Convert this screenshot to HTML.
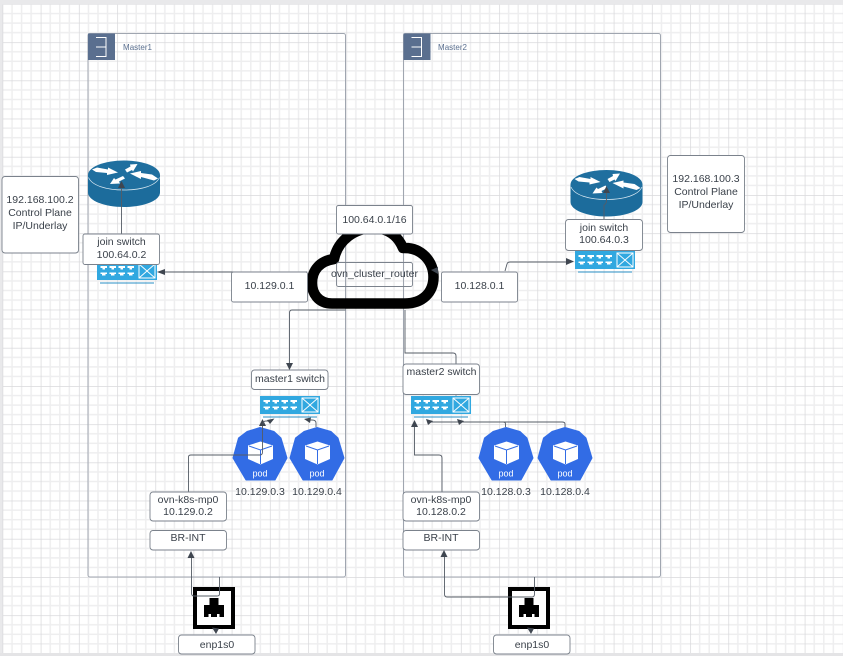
<!DOCTYPE html>
<html><head><meta charset="utf-8"><style>
html,body{margin:0;padding:0;background:#fff;overflow:hidden}
svg{display:block;filter:blur(.3px)}
text{font-family:"Liberation Sans",sans-serif;font-size:10.5px;fill:#3a414a;text-anchor:middle}
.b{fill:#fff;stroke:#7b828c;stroke-width:.9}
.c{fill:none;stroke:#555c66;stroke-width:.9}
.a{fill:#3f4650}
.m{fill:none;stroke:#a0a6b0;stroke-width:1}
</style></head><body>
<svg width="843" height="656" viewBox="0 0 843 656" xmlns="http://www.w3.org/2000/svg">
<defs>
<pattern id="g" x="2.5" y="4" width="38.2" height="38.2" patternUnits="userSpaceOnUse">
<path d="M9.55 0V38.2M19.1 0V38.2M28.65 0V38.2M0 9.55H38.2M0 19.1H38.2M0 28.65H38.2" stroke="#eeeeef" stroke-width="1.5" fill="none"/>
<path d="M0 0V38.2M0 0H38.2" stroke="#d9d9dc" stroke-width="1.5" fill="none"/>
</pattern>
<g id="sw">
<rect x="0" y="0" width="60" height="18" fill="#31a8e0"/>
<g fill="#fff">
<path id="p" d="M3.500 4H10V6H8V7.500H5.500V6H3.500ZM3.500 10.500H10V12H8.500V13.500H5V12H3.500Z"/>
<use href="#p" x="9"/><use href="#p" x="18"/><use href="#p" x="27"/>
</g>
<rect x="42" y="2" width="16" height="14" fill="none" stroke="#fff" stroke-width="1"/>
<path d="M42 2L58 16M58 2L42 16" stroke="#fff" stroke-width=".9"/>
<path d="M3 21H57" stroke="#2a8fc4" stroke-width="1.1"/>
</g>
<g id="router">
<path d="M0 14.500V32C0 40 16 46.500 36 46.500S72 40 72 32V14.500Z" fill="#1c6c9c"/>
<ellipse cx="36" cy="14.500" rx="36" ry="14.500" fill="#1f6f9f"/>
<path d="M0.500 17C4 25 18 29.500 36 29.500S68 25 71.500 17" fill="none" stroke="#d8e8f2" stroke-width=".7"/>
<g fill="#fff">
<path d="M4 9L9 7L20 9L20 7L30 12L19 14.500L19 12.500L8 11.500Z"/>
<path d="M37 9L39 12L44 9.500L45 11L49.500 3.500L42 4L42.500 6Z"/>
<path d="M42 13L53 10.500L53 12.500L64 14L70 18L66 20L53 16.500L53 18.500Z"/>
<path d="M35 15.500L37 18L31 21L32 23L22 23.500L26 17.500L27.500 19Z"/>
</g>
</g>
<g id="pod">
<path d="M27 0.500L41 4.500L48 11L54 31L42 53H13L0 31L5.500 11L14 4.500Z" fill="#326ce5" stroke="#326ce5" stroke-width="1" stroke-linejoin="round"/>
<path d="M27.500 14.500L15 18.500V32L27.500 37.500L40 32V18.500Z" fill="#fff"/>
<path d="M16 19L27.500 23L39 19M27.500 23V37" fill="none" stroke="#326ce5" stroke-width="1"/>
<text x="27" y="49.500" style="fill:#fff;font-size:9px">pod</text>
</g>
<g id="eth">
<rect x="2" y="2" width="38" height="38" fill="#fff" stroke="#000" stroke-width="4"/>
<path d="M16.500 11H25.500V18H31V30H26.500V27H24V30H18V27H15.500V30H11V18H16.500Z" fill="#000"/>
</g>
</defs>
<rect width="843" height="656" fill="#fff"/>
<rect width="843" height="656" fill="url(#g)"/>
<rect x="0" y="0" width="843" height="4.500" fill="#e9e9eb"/>
<rect x="0" y="0" width="2.500" height="656" fill="#e9e9eb"/>
<rect x="0" y="653" width="843" height="3" fill="#e4e4e6"/>

<!-- Masters -->
<rect class="m" x="88" y="33.500" width="257.500" height="543.500" rx="2"/>
<rect class="m" x="403.500" y="33.500" width="257" height="543.500" rx="2"/>
<rect x="88" y="33.500" width="27" height="26.500" fill="#5a6f8f"/>
<path d="M96 37.500H106V56.500H96M96 47H105.500" fill="none" stroke="#fff" stroke-width="1"/>
<rect x="403.500" y="33.500" width="27" height="26.500" fill="#5a6f8f"/>
<path d="M411.500 37.500H421.500V56.500H411.500M411.500 47H421" fill="none" stroke="#fff" stroke-width="1"/>
<text x="137.500" y="50" style="font-size:8px;fill:#5a6f8f">Master1</text>
<text x="452.500" y="50" style="font-size:8px;fill:#5a6f8f">Master2</text>

<!-- Side boxes -->
<rect class="b" x="2" y="176.500" width="76.500" height="76.500" rx="3"/>
<text x="40" y="203">192.168.100.2</text><text x="40" y="216">Control Plane</text><text x="40" y="229">IP/Underlay</text>
<rect class="b" x="667.500" y="155.500" width="77" height="77" rx="3"/>
<text x="706" y="182">192.168.100.3</text><text x="706" y="195">Control Plane</text><text x="706" y="208">IP/Underlay</text>

<!-- Routers -->
<use href="#router" x="88" y="160.500"/>
<use href="#router" x="570.500" y="170"/>

<!-- Switches -->
<use href="#sw" x="97" y="262"/>
<use href="#sw" x="575" y="251"/>
<use href="#sw" x="260" y="396"/>
<use href="#sw" x="411" y="396"/>

<!-- Connectors -->
<path class="c" d="M121.500 234V186"/><path class="a" d="M121.500 181L118 188H125Z"/>
<path class="c" d="M604 219V205Q606.500 204 606.500 200V192"/><path class="a" d="M606.500 186L603 193H610Z"/>
<path class="c" d="M307 272H163"/><path class="a" d="M157 272L165 269V275Z"/>
<path class="c" d="M505 271L507 264Q507.500 262 510 262H570"/><path class="a" d="M574 261.500L566 258V265Z"/>
<path class="c" d="M345.500 310H292Q289.500 310 289.500 313V364"/><path class="a" d="M289.500 370L286 363H293Z"/>
<path class="c" d="M405 310V353H453Q456 353 456 356V390"/><path class="a" d="M456 396L452.500 389H459.500Z"/>
<path class="c" d="M442 492V458Q442 455 439 455H414.500V427"/><path class="a" d="M414.500 420L411 427H418Z"/>

<!-- Cloud -->
<path d="M332 303.500C318 303.500 312 293 312 283C312 270 320 261 334 259C338 240 355 228 373 228C388 228 398 236 403 248C422 247 433.500 262 433.500 277C433.500 293 422 303.500 405 303.500Z" fill="none" stroke="#000" stroke-width="10.500" stroke-linejoin="round"/>
<path class="a" d="M431 270L438 267V274Z"/>

<!-- Cloud labels -->
<rect class="b" x="336.500" y="205.500" width="76" height="28.500" rx="2"/><text x="374.500" y="223">100.64.0.1/16</text>
<rect x="336.500" y="262.500" width="76" height="24" rx="2" fill="none" stroke="#7b828c" stroke-width=".9"/><text x="374.500" y="277">ovn_cluster_router</text>
<rect class="b" x="231.500" y="272" width="76" height="30" rx="2"/><text x="269.500" y="289">10.129.0.1</text>
<rect class="b" x="441.500" y="272" width="76" height="30" rx="2"/><text x="479.500" y="289">10.128.0.1</text>

<!-- Labels -->
<rect class="b" x="83" y="234" width="76.500" height="30.500" rx="2"/><text x="121.500" y="245">join switch</text><text x="121.500" y="258">100.64.0.2</text>
<rect class="b" x="565.500" y="219.500" width="77" height="31" rx="3"/><text x="604" y="231">join switch</text><text x="604" y="243">100.64.0.3</text>
<rect class="b" x="251.500" y="370" width="76.500" height="19.500" rx="3"/><text x="290" y="382">master1 switch</text>
<rect class="b" x="403" y="364" width="76.500" height="30.500" rx="3"/><text x="441.500" y="375">master2 switch</text>

<!-- Pods -->
<use href="#pod" x="233" y="427"/>
<use href="#pod" x="290" y="427"/>
<use href="#pod" x="479" y="427"/>
<use href="#pod" x="538" y="427"/>

<!-- Connectors over pods -->
<path class="c" d="M188.500 492V457Q188.500 455 191 455H260Q262.500 455 262.500 452V423"/><path class="a" d="M262.500 419L259 426H266Z"/>
<path class="c" d="M263 424Q263 421 266 421H272"/><path class="a" d="M274.500 418.500L267 420L270 424Z"/>
<path class="c" d="M316 427V423Q316 420 312 420H308"/><path class="a" d="M304 419L311 417.500L310 423Z"/>
<path class="c" d="M505.500 427V424Q505.500 422 503 422H430"/><path class="a" d="M426 419L433 421L428 425Z"/>
<path class="c" d="M565 427V424Q565 422 562 422H462"/><path class="a" d="M457 419L464 421L459 425Z"/>

<text x="260" y="495">10.129.0.3</text><text x="317" y="495">10.129.0.4</text>
<text x="506" y="495">10.128.0.3</text><text x="565" y="495">10.128.0.4</text>

<rect class="b" x="150" y="492" width="76.500" height="29" rx="3"/><text x="188" y="503">ovn-k8s-mp0</text><text x="188" y="515">10.129.0.2</text>
<rect class="b" x="150" y="530.500" width="76.500" height="19.500" rx="3"/><text x="188" y="541">BR-INT</text>
<rect class="b" x="403" y="492" width="76.500" height="29" rx="3"/><text x="441" y="503">ovn-k8s-mp0</text><text x="441" y="515">10.128.0.2</text>
<rect class="b" x="403" y="530.500" width="76.500" height="19.500" rx="3"/><text x="441" y="541">BR-INT</text>

<!-- Ethernet -->
<use href="#eth" x="193" y="587"/>
<use href="#eth" x="508" y="587"/>
<path class="c" d="M219.500 577V594Q219.500 596 217 596H194Q191.500 596 191.500 593V557"/><path class="a" d="M191 551L187.500 558H194.500Z"/>
<path class="c" d="M534.500 577V594Q534.500 597 532 597H447Q444.500 597 444.500 594V557"/><path class="a" d="M444 550L440.500 557H447.500Z"/>
<path class="a" d="M212 627.500L219 628.500L216 634Z"/>
<path class="a" d="M527 627.500L534 628.500L531 634Z"/>
<rect class="b" x="178.500" y="635" width="76.500" height="19" rx="3"/><text x="217" y="648">enp1s0</text>
<rect class="b" x="493.500" y="635" width="76.500" height="19" rx="3"/><text x="532" y="648">enp1s0</text>
</svg>
</body></html>
